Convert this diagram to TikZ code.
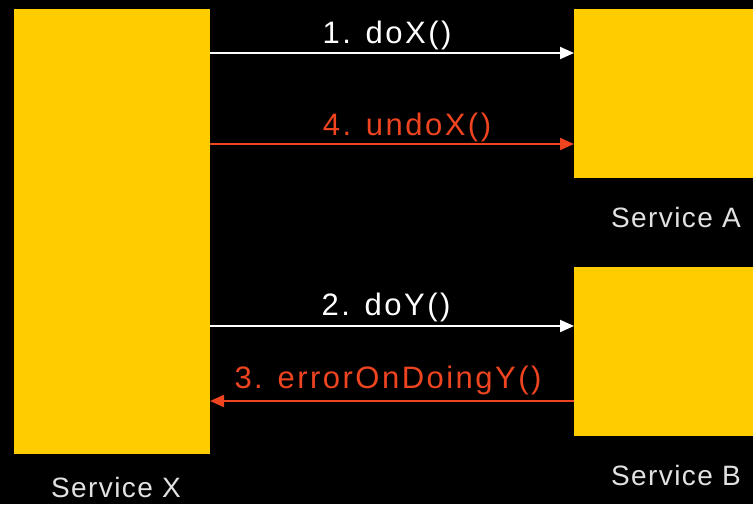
\documentclass[tikz,border=0pt]{standalone}
\usepackage{fontspec}
\setmainfont{Liberation Sans}
\newfontfamily\lblfont[LetterSpace=8]{Liberation Sans}
\newfontfamily\svcfont[LetterSpace=5]{Liberation Sans}
\usetikzlibrary{arrows.meta}
\definecolor{boxyellow}{RGB}{255,204,0}
\definecolor{errred}{RGB}{238,68,32}
\definecolor{svcgray}{RGB}{225,225,225}
\tikzset{
  svcbox/.style={fill=boxyellow, draw=none, inner sep=0pt, outer sep=0pt},
  msg/.style={line width=2pt, -{Triangle[length=14pt,width=12pt]}},
  whitemsg/.style={msg, draw=white},
  redmsg/.style={msg, draw=errred},
  lbl/.style={anchor=base, inner sep=0pt, font=\lblfont\fontsize{31}{33}\selectfont},
  svclbl/.style={anchor=base, inner sep=0pt, text=svcgray, font=\svcfont\fontsize{28}{30}\selectfont}
}
\begin{document}
\begin{tikzpicture}[x=1pt, y=-1pt]
\fill[black] (0,0) rectangle (753,504);
\useasboundingbox (0,0) rectangle (753,504);
\node[svcbox, minimum width=196pt, minimum height=445pt] (X) at (112,231.5) {};
\node[svcbox, minimum width=179pt, minimum height=169pt] (A) at (663.5,93.5) {};
\node[svcbox, minimum width=179pt, minimum height=169pt] (B) at (663.5,351.5) {};
\node[svclbl] (lX) at (116,497) {Service X};
\node[svclbl] (lA) at (676,227) {Service A};
\node[svclbl] (lB) at (676,485) {Service B};
\draw[whitemsg] (X.east |- 0,53) -- (A.west |- 0,53);
\draw[redmsg] (X.east |- 0,144) -- (A.west |- 0,144);
\draw[whitemsg] (X.east |- 0,326) -- (B.west |- 0,326);
\draw[redmsg] (B.west |- 0,401) -- (X.east |- 0,401);
\node[lbl, text=white] (m1) at (387,43) {1. doX()};
\node[lbl, text=errred] (m4) at (407,135) {4. undoX()};
\node[lbl, text=white] (m2) at (386,315) {2. doY()};
\node[lbl, text=errred] (m3) at (388,388) {3. errorOnDoingY()};
\end{tikzpicture}
\end{document}
